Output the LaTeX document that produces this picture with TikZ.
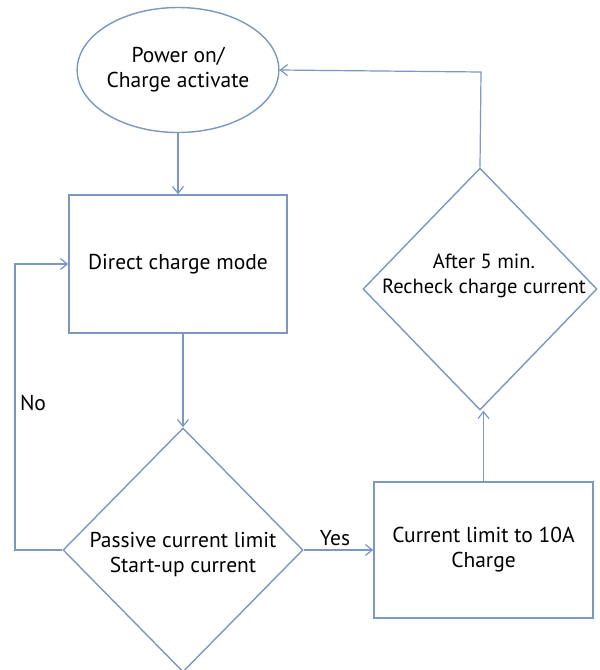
\documentclass[tikz,border=0pt]{standalone}
\usepackage{fontspec}
\setmainfont{PT Sans}
\usetikzlibrary{shapes.geometric,arrows.meta}
\definecolor{ln}{RGB}{122,152,192}
\begin{document}
\begin{tikzpicture}[x=1pt,y=-1pt,
  every node/.style={font=\fontsize{21.5}{25}\selectfont, text=black, align=center},
  shp/.style={draw=ln, line width=1.4pt, inner sep=0pt},
  arr/.style={draw=ln, line width=1.2pt, -{Straight Barb[length=7pt,width=11pt]}},
  lbl/.style={inner sep=0pt}
]
\fill[white] (0,0) rectangle (600,670);
\useasboundingbox (0,0) rectangle (600,670);

\node[shp, ellipse, minimum width=198pt, minimum height=125pt] (E) at (178,70) {Power on/\\Charge activate};
\node[shp, rectangle, minimum width=218pt, minimum height=138pt] (B1) at (178,264) {Direct charge mode};
\node[shp, diamond, minimum width=240pt, minimum height=244pt] (D1) at (183,550) {};
\node[lbl] (T1) at (183,555) {Passive current limit\\Start-up current};
\node[shp, rectangle, minimum width=219pt, minimum height=136pt] (B2) at (483.5,550) {Current limit to 10A\\Charge};
\node[shp, diamond, minimum width=234pt, minimum height=242pt] (D2) at (480,289) {};
\node[lbl, font=\fontsize{20.5}{25}\selectfont] (T2) at (484,276) {After 5 min.\\Recheck charge current};

\coordinate (c1) at (15,550);
\coordinate (c2) at (15,264);
\coordinate (c3) at (481,72);

\draw[arr] (E.south) -- (B1.north);
\draw[arr] (D1.north |- B1.south) -- (D1.north);
\draw[arr] (D1.west) -- (c1) -- (c2) -- (B1.west);
\node[lbl] (no) at (33,403) {No};
\draw[arr] (D1.east) -- (B2.west);
\node[lbl] (yes) at (335,538) {Yes};
\draw[arr] (B2.north) -- (B2.north |- D2.south);
\draw[arr] (D2.north) -- (c3) -- (E.east);
\end{tikzpicture}
\end{document}
